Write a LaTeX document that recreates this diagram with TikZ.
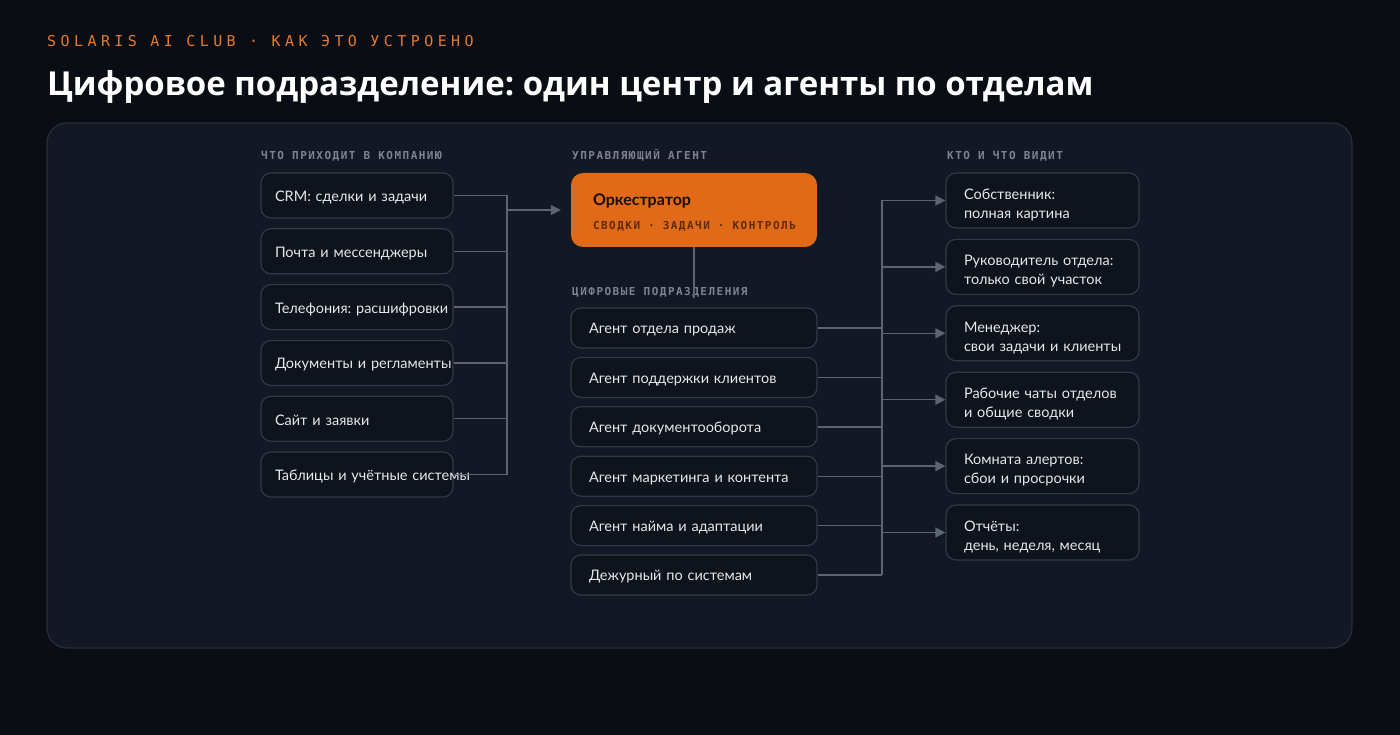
\documentclass[tikz,border=0pt]{standalone}
\usepackage{fontspec}
\setmainfont{Lato}
\newfontfamily\titlefont{Open Sans}
\newfontfamily\tagfont[LetterSpace=13.5]{DejaVu Sans Mono}
\newfontfamily\headfont[LetterSpace=29.5]{DejaVu Sans Mono}
\usetikzlibrary{positioning, arrows.meta}
\frenchspacing

\definecolor{pagebg}{HTML}{0A0D14}
\definecolor{panelbg}{HTML}{121925}
\definecolor{panelline}{HTML}{262E3A}
\definecolor{boxbg}{HTML}{0E131C}
\definecolor{boxline}{HTML}{323946}
\definecolor{wirecol}{HTML}{5C6470}
\definecolor{tagcol}{HTML}{7D848F}
\definecolor{textcol}{HTML}{E5E8EC}
\definecolor{orchfill}{HTML}{E06A17}
\definecolor{orchtext}{HTML}{1A0D03}
\definecolor{orchsub}{HTML}{5E2C08}
\definecolor{accent}{HTML}{E57A2E}

% one line that must not wrap inside a box
\newcommand\keep[1]{\mbox{#1}}
% gap around the middle dot in the orange box
\newcommand\dotgap{\hspace{8pt}·\hspace{8pt}}

\begin{document}
\begin{tikzpicture}[x=1pt, y=-1pt, on grid,
    wire/.style={draw=wirecol, line width=1.4pt},
    tip/.style={-{Triangle[length=10pt,width=10pt]}},
    basebox/.style={draw=boxline, fill=boxbg, line width=1.2pt, rounded corners=10pt,
      text=textcol, font=\fontsize{14.5}{19}\selectfont, align=left, inner ysep=0pt},
    srcbox/.style={basebox, minimum height=45pt, text width=164pt, inner xsep=14pt,
      execute at begin node=\rule{0pt}{14.5pt}},
    agentbox/.style={basebox, minimum height=40pt, text width=210pt, inner xsep=18pt,
      execute at begin node=\rule{0pt}{14.5pt}},
    viewbox/.style={basebox, minimum height=55pt, text width=157pt, inner xsep=18pt,
      execute at begin node=\rule{0pt}{19pt}},
    orchbox/.style={fill=orchfill, rounded corners=12pt, minimum height=74pt,
      text width=202pt, inner xsep=22pt, align=left, text=orchtext},
    tag/.style={anchor=base west, inner sep=0pt, text=tagcol,
      font=\tagfont\fontsize{11}{12}\selectfont\bfseries},
]
  \useasboundingbox (0,0) rectangle (1400,735);
  \fill[pagebg] (0,0) rectangle (1400,735);

  % header
  \node[anchor=base west, inner sep=0pt, text=accent,
    font=\headfont\fontsize{15}{18}\selectfont] (kicker) at (47,47)
    {SOLARIS AI CLUB · КАК ЭТО УСТРОЕНО};
  \node[anchor=base west, inner sep=0pt, text=white,
    font=\titlefont\bfseries\fontsize{33}{36}\selectfont] (title) at (47,96)
    {Цифровое подразделение: один центр и агенты по отделам};

  % panel
  \draw[fill=panelbg, draw=panelline, line width=1.2pt, rounded corners=20pt]
    (47,123) rectangle (1352,648);

  % column labels
  \node[tag] (tagsrc) at (261,160) {ЧТО ПРИХОДИТ В КОМПАНИЮ};
  \node[tag] (tagorch) at (572,160) {УПРАВЛЯЮЩИЙ АГЕНТ};
  \node[tag] (tagview) at (947,160) {КТО И ЧТО ВИДИТ};
  \node[tag] (tagagents) at (572,296) {ЦИФРОВЫЕ ПОДРАЗДЕЛЕНИЯ};

  % inputs
  \begin{scope}[node distance=55.8pt]
    \node[srcbox] (src1) at (357,195.5) {\keep{CRM: сделки и задачи}};
    \node[srcbox, below=of src1] (src2) {\keep{Почта и мессенджеры}};
    \node[srcbox, below=of src2] (src3) {\keep{Телефония: расшифровки}};
    \node[srcbox, below=of src3] (src4) {\keep{Документы и регламенты}};
    \node[srcbox, below=of src4] (src5) {\keep{Сайт и заявки}};
    \node[srcbox, below=of src5] (src6) {\keep{Таблицы и учётные системы}};
  \end{scope}

  % orchestrator
  \node[orchbox] (orch) at (694,210)
    {\rule{0pt}{16pt}{\fontsize{16}{18}\selectfont\bfseries Оркестратор}\\[12pt]
     {\tagfont\fontsize{11}{12}\selectfont\bfseries\color{orchsub}\keep{СВОДКИ\dotgap ЗАДАЧИ\dotgap КОНТРОЛЬ}}};

  % agents
  \begin{scope}[node distance=49.4pt]
    \node[agentbox] (ag1) at (694,328) {\keep{Агент отдела продаж}};
    \node[agentbox, below=of ag1] (ag2) {\keep{Агент поддержки клиентов}};
    \node[agentbox, below=of ag2] (ag3) {\keep{Агент документооборота}};
    \node[agentbox, below=of ag3] (ag4) {\keep{Агент маркетинга и контента}};
    \node[agentbox, below=of ag4] (ag5) {\keep{Агент найма и адаптации}};
    \node[agentbox, below=of ag5] (ag6) {\keep{Дежурный по системам}};
  \end{scope}

  % who sees what
  \begin{scope}[node distance=66.4pt]
    \node[viewbox] (out1) at (1042.5,200.5) {\keep{Собственник:}\\\keep{полная картина}};
    \node[viewbox, below=of out1] (out2) {\keep{Руководитель отдела:}\\\keep{только свой участок}};
    \node[viewbox, below=of out2] (out3) {\keep{Менеджер:}\\\keep{свои задачи и клиенты}};
    \node[viewbox, below=of out3] (out4) {\keep{Рабочие чаты отделов}\\\keep{и общие сводки}};
    \node[viewbox, below=of out4] (out5) {\keep{Комната алертов:}\\\keep{сбои и просрочки}};
    \node[viewbox, below=of out5] (out6) {\keep{Отчёты:}\\\keep{день, неделя, месяц}};
  \end{scope}

  % wires
  \coordinate (lbus) at (507,210);
  \coordinate (rbus) at (882,0);
  \coordinate (drop) at (694,298);
  \foreach \i in {1,...,6}
    \draw[wire] (src\i.east) -- (src\i.east -| lbus);
  \draw[wire] (src1.east -| lbus) -- (src6.east -| lbus);
  \draw[wire, tip, shorten >=10pt] (lbus) -- (orch.west);
  \draw[wire] (orch.south) -- (drop);
  \foreach \i in {1,...,6}
    \draw[wire] (ag\i.east) -- (ag\i.east -| rbus);
  \draw[wire] (out1.west -| rbus) -- (ag6.east -| rbus);
  \foreach \j in {1,...,6}
    \draw[wire, tip] (out\j.west -| rbus) -- (out\j.west);
\end{tikzpicture}
\end{document}
